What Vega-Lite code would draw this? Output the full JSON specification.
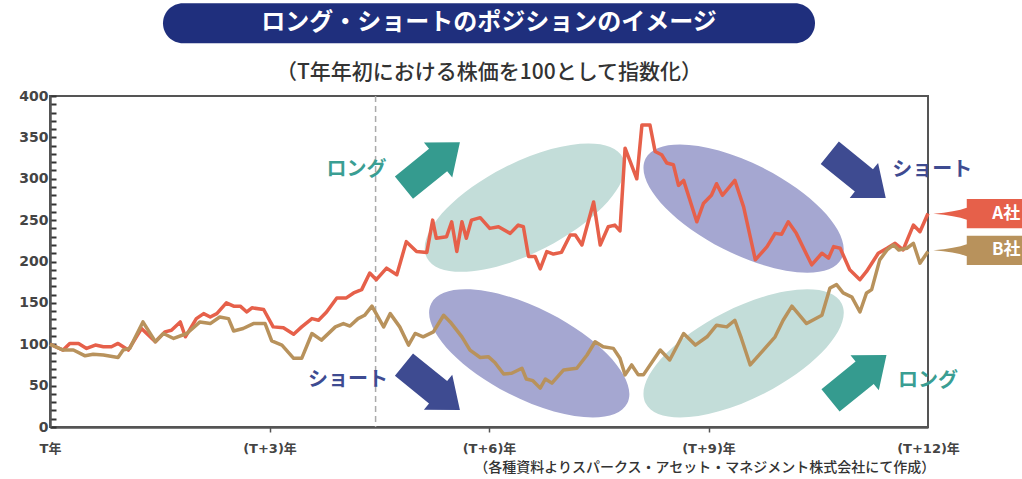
{
  "$schema": "https://vega.github.io/schema/vega-lite/v6.json",
  "width": 878,
  "height": 331,
  "autosize": {"type": "none"},
  "padding": {"left": 50, "top": 96, "right": 94, "bottom": 52},
  "background": "white",
  "config": {
    "view": {"stroke": "#555555", "strokeWidth": 2},
    "font": "Noto Sans CJK JP"
  },
  "datasets": {
    "prices": [
      {"co":"A社","t":0,"v":100},{"co":"A社","t":0.18,"v":93},{"co":"A社","t":0.27,"v":101},{"co":"A社","t":0.39,"v":101},{"co":"A社","t":0.5,"v":95},{"co":"A社","t":0.62,"v":99},{"co":"A社","t":0.73,"v":97},{"co":"A社","t":0.84,"v":97},{"co":"A社","t":0.93,"v":101},{"co":"A社","t":1.07,"v":93},{"co":"A社","t":1.25,"v":119},{"co":"A社","t":1.44,"v":103},{"co":"A社","t":1.57,"v":115},{"co":"A社","t":1.66,"v":117},{"co":"A社","t":1.78,"v":127},{"co":"A社","t":1.85,"v":109},{"co":"A社","t":2.0,"v":131},{"co":"A社","t":2.1,"v":137},{"co":"A社","t":2.19,"v":133},{"co":"A社","t":2.28,"v":137},{"co":"A社","t":2.41,"v":150},{"co":"A社","t":2.51,"v":146},{"co":"A社","t":2.6,"v":146},{"co":"A社","t":2.69,"v":139},{"co":"A社","t":2.76,"v":144},{"co":"A社","t":2.92,"v":142},{"co":"A社","t":3.05,"v":121},{"co":"A社","t":3.19,"v":120},{"co":"A社","t":3.33,"v":112},{"co":"A社","t":3.44,"v":121},{"co":"A社","t":3.58,"v":131},{"co":"A社","t":3.67,"v":129},{"co":"A社","t":3.78,"v":139},{"co":"A社","t":3.92,"v":156},{"co":"A社","t":4.05,"v":156},{"co":"A社","t":4.15,"v":162},{"co":"A社","t":4.26,"v":166},{"co":"A社","t":4.37,"v":186},{"co":"A社","t":4.46,"v":178},{"co":"A社","t":4.6,"v":192},{"co":"A社","t":4.74,"v":184},{"co":"A社","t":4.87,"v":224},{"co":"A社","t":5.01,"v":212},{"co":"A社","t":5.15,"v":211},{"co":"A社","t":5.23,"v":250},{"co":"A社","t":5.28,"v":228},{"co":"A社","t":5.42,"v":230},{"co":"A社","t":5.49,"v":248},{"co":"A社","t":5.56,"v":212},{"co":"A社","t":5.63,"v":248},{"co":"A社","t":5.69,"v":228},{"co":"A社","t":5.76,"v":250},{"co":"A社","t":5.88,"v":253},{"co":"A社","t":6.01,"v":240},{"co":"A社","t":6.13,"v":242},{"co":"A社","t":6.29,"v":234},{"co":"A社","t":6.4,"v":244},{"co":"A社","t":6.47,"v":242},{"co":"A社","t":6.54,"v":206},{"co":"A社","t":6.63,"v":206},{"co":"A社","t":6.7,"v":191},{"co":"A社","t":6.79,"v":212},{"co":"A社","t":6.88,"v":209},{"co":"A社","t":6.99,"v":211},{"co":"A社","t":7.11,"v":232},{"co":"A社","t":7.18,"v":232},{"co":"A社","t":7.27,"v":220},{"co":"A社","t":7.43,"v":272},{"co":"A社","t":7.52,"v":220},{"co":"A社","t":7.63,"v":242},{"co":"A社","t":7.72,"v":244},{"co":"A社","t":7.79,"v":237},{"co":"A社","t":7.86,"v":337},{"co":"A社","t":8.02,"v":300},{"co":"A社","t":8.09,"v":365},{"co":"A社","t":8.2,"v":365},{"co":"A社","t":8.27,"v":333},{"co":"A社","t":8.36,"v":329},{"co":"A社","t":8.43,"v":319},{"co":"A社","t":8.52,"v":317},{"co":"A社","t":8.59,"v":292},{"co":"A社","t":8.66,"v":298},{"co":"A社","t":8.84,"v":248},{"co":"A社","t":8.93,"v":270},{"co":"A社","t":9.04,"v":280},{"co":"A社","t":9.11,"v":294},{"co":"A社","t":9.19,"v":280},{"co":"A社","t":9.36,"v":298},{"co":"A社","t":9.48,"v":266},{"co":"A社","t":9.64,"v":202},{"co":"A社","t":9.8,"v":218},{"co":"A社","t":9.91,"v":234},{"co":"A社","t":10.0,"v":233},{"co":"A社","t":10.09,"v":248},{"co":"A社","t":10.2,"v":234},{"co":"A社","t":10.41,"v":196},{"co":"A社","t":10.55,"v":210},{"co":"A社","t":10.64,"v":204},{"co":"A社","t":10.71,"v":218},{"co":"A社","t":10.8,"v":216},{"co":"A社","t":10.93,"v":190},{"co":"A社","t":11.07,"v":178},{"co":"A社","t":11.16,"v":188},{"co":"A社","t":11.32,"v":210},{"co":"A社","t":11.44,"v":216},{"co":"A社","t":11.55,"v":222},{"co":"A社","t":11.66,"v":214},{"co":"A社","t":11.8,"v":244},{"co":"A社","t":11.89,"v":236},{"co":"A社","t":12.0,"v":258},
      {"co":"B社","t":0,"v":100},{"co":"B社","t":0.18,"v":93},{"co":"B社","t":0.32,"v":93},{"co":"B社","t":0.48,"v":86},{"co":"B社","t":0.59,"v":88},{"co":"B社","t":0.73,"v":87},{"co":"B社","t":0.93,"v":84},{"co":"B社","t":1.0,"v":93},{"co":"B社","t":1.09,"v":95},{"co":"B社","t":1.27,"v":127},{"co":"B社","t":1.44,"v":103},{"co":"B社","t":1.55,"v":113},{"co":"B社","t":1.69,"v":107},{"co":"B社","t":1.87,"v":113},{"co":"B社","t":2.05,"v":127},{"co":"B社","t":2.19,"v":125},{"co":"B社","t":2.32,"v":133},{"co":"B社","t":2.44,"v":131},{"co":"B社","t":2.51,"v":116},{"co":"B社","t":2.64,"v":119},{"co":"B社","t":2.78,"v":125},{"co":"B社","t":2.94,"v":125},{"co":"B社","t":3.03,"v":104},{"co":"B社","t":3.17,"v":99},{"co":"B社","t":3.33,"v":83},{"co":"B社","t":3.44,"v":83},{"co":"B社","t":3.58,"v":113},{"co":"B社","t":3.71,"v":105},{"co":"B社","t":3.9,"v":121},{"co":"B社","t":4.01,"v":125},{"co":"B社","t":4.1,"v":122},{"co":"B社","t":4.21,"v":131},{"co":"B社","t":4.3,"v":135},{"co":"B社","t":4.4,"v":146},{"co":"B社","t":4.56,"v":121},{"co":"B社","t":4.65,"v":137},{"co":"B社","t":4.78,"v":121},{"co":"B社","t":4.9,"v":99},{"co":"B社","t":4.99,"v":113},{"co":"B社","t":5.1,"v":109},{"co":"B社","t":5.24,"v":115},{"co":"B社","t":5.38,"v":135},{"co":"B社","t":5.47,"v":127},{"co":"B社","t":5.63,"v":109},{"co":"B社","t":5.74,"v":93},{"co":"B社","t":5.88,"v":84},{"co":"B社","t":5.99,"v":85},{"co":"B社","t":6.08,"v":78},{"co":"B社","t":6.2,"v":64},{"co":"B社","t":6.31,"v":65},{"co":"B社","t":6.45,"v":71},{"co":"B社","t":6.51,"v":58},{"co":"B社","t":6.6,"v":56},{"co":"B社","t":6.7,"v":47},{"co":"B社","t":6.77,"v":58},{"co":"B社","t":6.86,"v":53},{"co":"B社","t":7.02,"v":69},{"co":"B社","t":7.2,"v":71},{"co":"B社","t":7.34,"v":87},{"co":"B社","t":7.45,"v":103},{"co":"B社","t":7.56,"v":97},{"co":"B社","t":7.7,"v":95},{"co":"B社","t":7.79,"v":83},{"co":"B社","t":7.86,"v":63},{"co":"B社","t":7.95,"v":75},{"co":"B社","t":8.04,"v":63},{"co":"B社","t":8.11,"v":63},{"co":"B社","t":8.34,"v":93},{"co":"B社","t":8.47,"v":81},{"co":"B社","t":8.66,"v":113},{"co":"B社","t":8.82,"v":99},{"co":"B社","t":8.98,"v":109},{"co":"B社","t":9.11,"v":123},{"co":"B社","t":9.25,"v":121},{"co":"B社","t":9.36,"v":129},{"co":"B社","t":9.45,"v":107},{"co":"B社","t":9.57,"v":75},{"co":"B社","t":9.75,"v":93},{"co":"B社","t":9.91,"v":109},{"co":"B社","t":10.02,"v":129},{"co":"B社","t":10.14,"v":146},{"co":"B社","t":10.34,"v":125},{"co":"B社","t":10.55,"v":135},{"co":"B社","t":10.66,"v":168},{"co":"B社","t":10.75,"v":172},{"co":"B社","t":10.84,"v":162},{"co":"B社","t":10.96,"v":157},{"co":"B社","t":11.07,"v":139},{"co":"B社","t":11.16,"v":162},{"co":"B社","t":11.23,"v":166},{"co":"B社","t":11.34,"v":202},{"co":"B社","t":11.44,"v":214},{"co":"B社","t":11.53,"v":220},{"co":"B社","t":11.6,"v":214},{"co":"B社","t":11.71,"v":216},{"co":"B社","t":11.8,"v":222},{"co":"B社","t":11.89,"v":198},{"co":"B社","t":12.0,"v":212}
    ],
    "ellipses": [
      {"kind":"long","t":6.49,"v":265},
      {"kind":"short","t":9.48,"v":264},
      {"kind":"short","t":6.55,"v":89},
      {"kind":"long","t":9.48,"v":89}
    ],
    "arrows": [
      {"kind":"long","t":5.22,"v":316.6},
      {"kind":"short","t":5.22,"v":48},
      {"kind":"short","t":11.04,"v":304},
      {"kind":"long","t":11.05,"v":59.5}
    ],
    "words": [
      {"kind":"long","side":"left","t":4.6,"v":310.6,"label":"ロング"},
      {"kind":"short","side":"left","t":4.62,"v":57,"label":"ショート"},
      {"kind":"short","side":"right","t":11.51,"v":310.6,"label":"ショート"},
      {"kind":"long","side":"right","t":11.59,"v":55.6,"label":"ロング"}
    ],
    "flags": [
      {"co":"A社","t":12.68,"v":257.8,"tt":13.07},
      {"co":"B社","t":12.68,"v":213.5,"tt":13.07}
    ],
    "headings": [
      {"t":6.0,"v":488,"title":"ロング・ショートのポジションのイメージ","sub":"（T年年初における株価を100として指数化）","subv":428}
    ],
    "notes": [
      {"t":12.1,"v":-50,"note":"（各種資料よりスパークス・アセット・マネジメント株式会社にて作成）"}
    ],
    "marker": [{"t":4.45}]
  },
  "encoding": {
    "x": {
      "field": "t", "type": "quantitative",
      "scale": {"domain": [0, 12], "nice": false, "zero": false},
      "axis": {
        "title": null, "grid": false,
        "values": [0, 3, 6, 9, 12],
        "labelExpr": "datum.value == 0 ? 'T年' : '(T+' + datum.value + ')年'",
        "domainColor": "#555555", "domainWidth": 2.5,
        "tickColor": "#555555", "tickWidth": 1.5, "tickSize": 5,
        "tickOpacity": {"condition": {"test": "datum.value == 0 || datum.value == 12", "value": 0}, "value": 1},
        "labelFont": "DejaVu Sans, Noto Sans CJK JP", "labelFontSize": 13, "labelFontWeight": "bold",
        "labelColor": "#444444", "labelPadding": 10, "labelFlush": false, "labelOverlap": false
      }
    },
    "y": {
      "field": "v", "type": "quantitative",
      "scale": {"domain": [0, 400], "nice": false},
      "axis": {
        "title": null, "grid": false,
        "values": [0,10,20,30,40,50,60,70,80,90,100,110,120,130,140,150,160,170,180,190,200,210,220,230,240,250,260,270,280,290,300,310,320,330,340,350,360,370,380,390,400],
        "labelExpr": "datum.value % 50 == 0 ? datum.label : ''",
        "domainColor": "#555555", "domainWidth": 2.5,
        "tickColor": "#333333", "tickWidth": 2, "tickSize": -6,
        "labelFont": "DejaVu Sans", "labelFontSize": 14, "labelFontWeight": "bold",
        "labelColor": "#444444", "labelPadding": 8, "labelOverlap": false, "labelFlush": false
      }
    }
  },
  "layer": [
    {
      "data": {"name": "ellipses"},
      "transform": [{"filter": "datum.kind == 'long'"}],
      "mark": {"type": "point", "filled": true, "opacity": 1, "color": "#c3ddd9", "size": 48400,
        "shape": "M0.891,-0.454C0.994,-0.252,0.678,0.115,0.186,0.365C-0.306,0.616,-0.788,0.656,-0.891,0.454C-0.994,0.252,-0.678,-0.115,-0.186,-0.365C0.306,-0.616,0.788,-0.656,0.891,-0.454Z"}
    },
    {
      "data": {"name": "ellipses"},
      "transform": [{"filter": "datum.kind == 'short'"}],
      "mark": {"type": "point", "filled": true, "opacity": 1, "color": "#a5a7d1", "size": 48400,
        "shape": "M-0.891,-0.454C-0.994,-0.252,-0.678,0.115,-0.186,0.365C0.306,0.616,0.788,0.656,0.891,0.454C0.994,0.252,0.678,-0.115,0.186,-0.365C-0.306,-0.616,-0.788,-0.656,-0.891,-0.454Z"}
    },
    {
      "data": {"name": "marker"},
      "mark": {"type": "rule", "color": "#aaaaaa", "strokeWidth": 1.5, "strokeDash": [6, 4]},
      "encoding": {"y": null}
    },
    {
      "data": {"name": "arrows"},
      "transform": [{"filter": "datum.kind == 'long'"}],
      "mark": {"type": "point", "filled": true, "opacity": 1, "color": "#359b8f", "size": 5184, "angle": -39,
        "shape": "M-1,-0.4L0.22,-0.4L0.22,-0.625L1,0L0.22,0.625L0.22,0.4L-1,0.4Z"}
    },
    {
      "data": {"name": "arrows"},
      "transform": [{"filter": "datum.kind == 'short'"}],
      "mark": {"type": "point", "filled": true, "opacity": 1, "color": "#3e4b91", "size": 5184, "angle": 39,
        "shape": "M-1,-0.4L0.22,-0.4L0.22,-0.625L1,0L0.22,0.625L0.22,0.4L-1,0.4Z"}
    },
    {
      "data": {"name": "words"},
      "transform": [{"filter": "datum.side == 'left'"}],
      "mark": {"type": "text", "align": "right", "baseline": "middle", "fontSize": 20, "fontWeight": "bold", "font": "Noto Sans CJK JP"},
      "encoding": {
        "text": {"field": "label"},
        "color": {"field": "kind", "type": "nominal", "scale": {"domain": ["long", "short"], "range": ["#3a9e93", "#3e4b91"]}, "legend": null}
      }
    },
    {
      "data": {"name": "words"},
      "transform": [{"filter": "datum.side == 'right'"}],
      "mark": {"type": "text", "align": "left", "baseline": "middle", "fontSize": 20, "fontWeight": "bold", "font": "Noto Sans CJK JP"},
      "encoding": {
        "text": {"field": "label"},
        "color": {"field": "kind", "type": "nominal", "scale": {"domain": ["long", "short"], "range": ["#3a9e93", "#3e4b91"]}, "legend": null}
      }
    },
    {
      "data": {"name": "prices"},
      "mark": {"type": "line", "strokeWidth": 3.5, "strokeJoin": "round"},
      "encoding": {
        "stroke": {"field": "co", "type": "nominal", "scale": {"domain": ["A社", "B社"], "range": ["#e6604a", "#b8925c"]}, "legend": null}
      }
    },
    {
      "data": {"name": "flags"},
      "mark": {"type": "point", "filled": true, "opacity": 1, "size": 7868,
        "shape": "M-1,0Q-0.5,-0.04,-0.248,-0.135L-0.248,-0.33L1,-0.33L1,0.33L-0.248,0.33L-0.248,0.135Q-0.5,0.04,-1,0Z"},
      "encoding": {
        "fill": {"field": "co", "type": "nominal", "scale": {"domain": ["A社", "B社"], "range": ["#e6604a", "#b8925c"]}, "legend": null}
      }
    },
    {
      "data": {"name": "flags"},
      "mark": {"type": "text", "align": "center", "baseline": "middle", "fontSize": 17, "fontWeight": "bold", "color": "white", "font": "Noto Sans CJK JP"},
      "encoding": {"x": {"field": "tt", "type": "quantitative"}, "text": {"field": "co"}}
    },
    {
      "data": {"name": "headings"},
      "mark": {"type": "point", "filled": true, "opacity": 1, "color": "#1f2f7d", "size": 425104,
        "shape": "M-0.9387,-0.0613L0.9387,-0.0613C0.9726,-0.0613,1,-0.0339,1,0C1,0.0339,0.9726,0.0613,0.9387,0.0613L-0.9387,0.0613C-0.9726,0.0613,-1,0.0339,-1,0C-1,-0.0339,-0.9726,-0.0613,-0.9387,-0.0613Z"}
    },
    {
      "data": {"name": "headings"},
      "mark": {"type": "text", "align": "center", "baseline": "middle", "fontSize": 24, "fontWeight": "bold", "color": "white", "font": "Noto Sans CJK JP"},
      "encoding": {"text": {"field": "title"}}
    },
    {
      "data": {"name": "headings"},
      "mark": {"type": "text", "align": "center", "baseline": "middle", "fontSize": 21, "fontWeight": 500, "color": "#333333", "font": "Noto Sans CJK JP"},
      "encoding": {"y": {"field": "subv", "type": "quantitative"}, "text": {"field": "sub"}}
    },
    {
      "data": {"name": "notes"},
      "mark": {"type": "text", "align": "right", "baseline": "middle", "fontSize": 14, "fontWeight": 500, "color": "#333333", "font": "Noto Sans CJK JP"},
      "encoding": {"text": {"field": "note"}}
    }
  ]
}
